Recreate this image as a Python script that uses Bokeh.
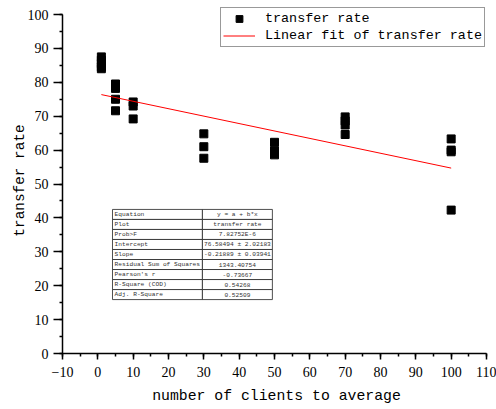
from bokeh.plotting import figure
from bokeh.models import Range1d, SingleIntervalTicker, Legend, LegendItem, ColumnDataSource
from bokeh.core.properties import value
from bokeh.embed import file_html
from bokeh.resources import INLINE

# ---- data ----
clients = [1, 1, 1, 1, 1,
           5, 5, 5, 5,
           10, 10, 10,
           30, 30, 30,
           50, 50, 50,
           70, 70, 70, 70,
           100, 100, 100, 100]
transfer_rate = [87.5, 86.5, 85.5, 84.5, 84.0,
                 79.5, 78.2, 75.0, 71.6,
                 74.2, 73.0, 69.2,
                 64.8, 61.0, 57.6,
                 62.3, 59.8, 58.6,
                 69.8, 68.6, 67.4, 64.6,
                 63.3, 60.0, 59.5, 42.3]
fit_x = [1, 100]
fit_y = [76.37, 54.69]

table_labels = ["Equation", "Plot", "Prob>F", "Intercept", "Slope",
                "Residual Sum of Squares", "Pearson's r", "R-Square (COD)", "Adj. R-Square"]
table_values = ["y = a + b*x", "transfer rate", "7.82752E-6", "76.58494 \u00b1 2.02183",
                "-0.21889 \u00b1 0.03941", "1343.40754", "-0.73667", "0.54268", "0.52509"]

MONO = "Liberation Mono"
SERIF = "Liberation Serif"

# ranges extended slightly past 100 / 110 so the legend (which sits a little
# above the top tick) is not clipped; the axes stop at 100 / 110 via bounds.
p = figure(width=496, height=409, output_backend="svg", toolbar_location=None,
           x_range=Range1d(-10, 111.132), y_range=Range1d(0, 102.065),
           min_border_left=62, min_border_right=6, min_border_top=7, min_border_bottom=56)
p.outline_line_color = None
p.xgrid.visible = False
p.ygrid.visible = False
p.background_fill_color = "white"
p.border_fill_color = "white"

for ax in (p.xaxis[0], p.yaxis[0]):
    ax.ticker = SingleIntervalTicker(interval=10, num_minor_ticks=2)
    ax.axis_line_color = "black"
    ax.axis_line_width = 1.5
    ax.major_tick_line_color = "black"
    ax.major_tick_line_width = 1.5
    ax.minor_tick_line_color = "black"
    ax.minor_tick_line_width = 1.5
    ax.major_tick_in = 0
    ax.minor_tick_in = 0
    ax.minor_tick_out = 3
    ax.major_label_text_font = SERIF
    ax.major_label_text_font_size = "14px"
    ax.major_label_text_color = "black"
    ax.axis_label_text_font = MONO
    ax.axis_label_text_font_style = "normal"
    ax.axis_label_text_color = "black"

p.xaxis.bounds = (-10, 110)
p.yaxis.bounds = (0, 100)
p.xaxis.major_tick_out = 6
p.yaxis.major_tick_out = 9
p.xaxis.major_label_standoff = 7
p.yaxis.major_label_standoff = 5
p.xaxis.axis_label = "number of clients to average"
p.yaxis.axis_label = "transfer rate"
p.xaxis.axis_label_text_font_size = "14.8px"
p.yaxis.axis_label_text_font_size = "14.4px"
p.xaxis.axis_label_standoff = 8
p.yaxis.axis_label_standoff = -3

# ---- data glyphs ----
src = ColumnDataSource(dict(x=clients, y=transfer_rate))
sc = p.scatter("x", "y", source=src, marker="square", size=8,
               fill_color="black", line_color="black")
ln = p.line(fit_x, fit_y, line_color="red", line_width=1)

# ---- inset results table (layout in data units) ----
tx0, tdiv, tx1 = 4.15, 29.6, 49.4
ttop, rowh = 42.5, 2.955
n = len(table_labels)
tops = [ttop - i * rowh for i in range(n)]
bots = [t - rowh for t in tops]
p.quad(left=[tx0] * n, right=[tdiv] * n, top=tops, bottom=bots,
       fill_color="white", line_color="#222222", line_width=0.8)
p.quad(left=[tdiv] * n, right=[tx1] * n, top=tops, bottom=bots,
       fill_color="white", line_color="#222222", line_width=0.8)
mids = [t - rowh / 2 for t in tops]
p.text(x=[tx0 + 0.6] * n, y=mids, text=table_labels, text_font=value(MONO),
       text_font_size="6.2px", text_align="left", text_baseline="middle", text_color="#333333")
p.text(x=[(tdiv + tx1) / 2] * n, y=mids, text=table_values, text_font=value(MONO),
       text_font_size="6.2px", text_align="center", text_baseline="middle", text_color="#333333")

# ---- legend ----
legend = Legend(items=[LegendItem(label="transfer rate", renderers=[sc]),
                       LegendItem(label="Linear fit of transfer rate", renderers=[ln])],
                location=(158, 306))
legend.border_line_color = "#333333"
legend.border_line_width = 1.2
legend.background_fill_color = "white"
legend.background_fill_alpha = 1
legend.label_text_font = MONO
legend.label_text_font_size = "13.4px"
legend.label_text_color = "black"
legend.glyph_width = 32
legend.glyph_height = 17
legend.label_height = 17
legend.spacing = 0
legend.padding = 2
legend.margin = 0
legend.label_standoff = 10
p.add_layout(legend)

open("out.html", "w").write(file_html(p, INLINE))
